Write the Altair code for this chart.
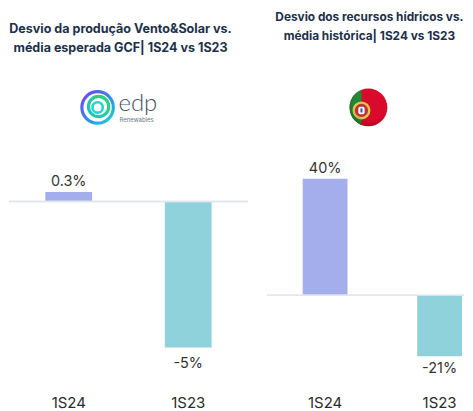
import base64
import altair as alt
import pandas as pd

categories = ["1S24", "1S23"]
left_values = [0.33, -5.0]
left_labels = ["0.3%", "-5%"]
right_values = [40, -21]
right_labels = ["40%", "-21%"]
colors = ["#a4aeec", "#8fd2db"]
left_title = "Desvio da produção Vento&Solar vs.\nmédia esperada GCF| 1S24 vs 1S23"
right_title = "Desvio dos recursos hídricos vs.\nmédia histórica| 1S24 vs 1S23"

FONT = "Inter"
H = 382

logo_svg = """<svg xmlns='http://www.w3.org/2000/svg' width='40' height='40' viewBox='0 0 40 40'>
<defs><linearGradient id='a' x1='0' y1='0' x2='1' y2='1'><stop offset='0' stop-color='#7b3ff0'/><stop offset='0.55' stop-color='#2f8fe8'/><stop offset='1' stop-color='#18d8d0'/></linearGradient>
<linearGradient id='b' x1='1' y1='0' x2='0' y2='1'><stop offset='0' stop-color='#35d06a'/><stop offset='1' stop-color='#18c8c8'/></linearGradient></defs>
<circle cx='20' cy='20' r='15.8' fill='none' stroke='url(#a)' stroke-width='3.2'/>
<circle cx='21' cy='19' r='10.2' fill='none' stroke='url(#b)' stroke-width='3.2'/>
<circle cx='20' cy='20' r='5.2' fill='none' stroke='#22d3d8' stroke-width='2.6'/>
</svg>"""

flag_svg = """<svg xmlns='http://www.w3.org/2000/svg' width='42' height='42' viewBox='0 0 42 42'>
<defs><clipPath id='c'><circle cx='21' cy='21' r='19'/></clipPath>
<radialGradient id='g' cx='0.55' cy='0.4' r='0.65'><stop offset='0.6' stop-color='#000' stop-opacity='0'/><stop offset='1' stop-color='#000' stop-opacity='0.28'/></radialGradient></defs>
<g clip-path='url(#c)'><rect width='42' height='42' fill='#d90a2c'/><rect width='12' height='42' x='2' fill='#1f8a36'/>
<circle cx='14' cy='24' r='9' fill='#e0c94a'/><circle cx='14' cy='24' r='6.6' fill='#c0303a'/>
<rect x='10.8' y='20.4' width='6.4' height='7.4' rx='1.8' fill='#f2f2f2'/><rect x='13' y='22' width='2' height='4' fill='#3557a6'/>
<rect width='42' height='42' fill='url(#g)'/></g></svg>"""


def uri(svg):
    return "data:image/svg+xml;base64," + base64.b64encode(svg.encode()).decode()


def panel(values, labels, title, domain, width, band, title_x, title_y, title_size, neg_dy, extras):
    df = pd.DataFrame({
        "cat": categories,
        "value": values,
        "label": labels,
        "color": colors,
        "base": [0, 0],
    })
    x = alt.X("cat:N", sort=categories, title=None,
              scale=alt.Scale(domain=categories, **band),
              axis=alt.Axis(domain=False, ticks=False, grid=False, labelAngle=0,
                            labelFont=FONT, labelFontSize=15, labelColor="#2b2b2b",
                            labelPadding=6))
    y = alt.Y("value:Q", title=None, axis=None, scale=alt.Scale(domain=domain, nice=False, zero=False))
    bars = alt.Chart(df).mark_bar().encode(x=x, y=y, y2="base:Q",
                                           color=alt.Color("color:N", scale=None))
    rule = alt.Chart(df).mark_rule(color="#e1e5ee", strokeWidth=1.5).encode(
        y=alt.Y("base:Q", scale=alt.Scale(domain=domain, nice=False, zero=False), axis=None),
        x=alt.value(0), x2=alt.value(width))
    text_pos = alt.Chart(df[df.value > 0]).mark_text(
        font=FONT, fontSize=14.5, color="#333333", baseline="bottom", dy=-3
    ).encode(x=x, y=y, text="label:N")
    text_neg = alt.Chart(df[df.value < 0]).mark_text(
        font=FONT, fontSize=14.5, color="#333333", baseline="top", dy=neg_dy
    ).encode(x=x, y=y, text="label:N")
    heading = alt.Chart(pd.DataFrame({"t": [title]})).mark_text(
        font=FONT, fontSize=title_size, fontWeight=700, color="#20304a", align="center",
        baseline="middle", lineBreak="\n", lineHeight=19
    ).encode(x=alt.value(title_x), y=alt.value(title_y), text="t:N")
    return alt.layer(bars, rule, text_pos, text_neg, heading, *extras).properties(width=width, height=H)


left_extras = [
    alt.Chart(pd.DataFrame({"u": [uri(logo_svg)]})).mark_image(width=40, height=40).encode(
        x=alt.value(89), y=alt.value(99), url="u:N"),
    alt.Chart(pd.DataFrame({"t": ["edp"]})).mark_text(
        font="Lato", fontSize=24, fontWeight=300, color="#44515f", align="left", baseline="middle"
    ).encode(x=alt.value(110), y=alt.value(96), text="t:N"),
    alt.Chart(pd.DataFrame({"t": ["Renewables"]})).mark_text(
        font="Inter", fontSize=6, color="#6b7683", align="left", baseline="middle"
    ).encode(x=alt.value(111), y=alt.value(112), text="t:N"),
]
right_extras = [
    alt.Chart(pd.DataFrame({"u": [uri(flag_svg)]})).mark_image(width=42, height=42).encode(
        x=alt.value(102), y=alt.value(99), url="u:N"),
]

left_band = dict(paddingInner=0.6083, paddingOuter=0.304)
right_band = dict(paddingInner=0.6087, paddingOuter=0.1652, align=0.947)

L0, LS = 193.5, 29.3
R0, RS = 287.5, 2.92
left = panel(left_values, left_labels, left_title, [-(H - L0) / LS, L0 / LS], 240, left_band, 112, 20, 12.6, 10, left_extras)
right = panel(right_values, right_labels, right_title, [-(H - R0) / RS, R0 / RS], 198, right_band, 103, 8, 11.9, 6, right_extras)

chart = alt.hconcat(left, right, spacing=19, bounds="flush").properties(padding=0, background="white").configure_view(stroke=None)

chart.save("out.html", embed_options={"renderer": "svg", "actions": False})
